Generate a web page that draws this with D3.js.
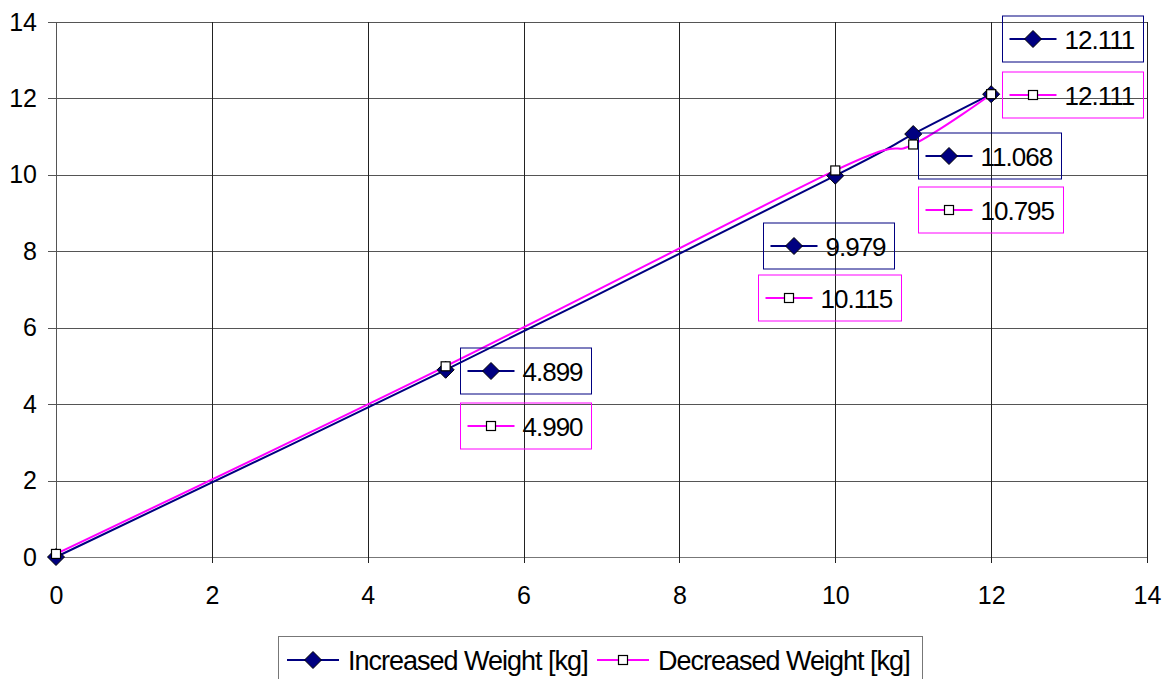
<!DOCTYPE html>
<html>
<head>
<meta charset="utf-8">
<script src="https://cdn.jsdelivr.net/npm/d3@7"></script>
<style>
  html, body { margin: 0; padding: 0; background: #fff; }
  svg { display: block; font-family: "Liberation Sans", Arial, sans-serif; }
</style>
</head>
<body>
<svg id="chart" width="1176" height="679"></svg>
<script>
// Load readings: x = applied weight step, y = measured weight [kg]
const xValues = [0, 5, 10, 11, 12];
const increasedWeight = [0, 4.899, 9.979, 11.068, 12.111];
const decreasedWeight = [0.08, 4.990, 10.115, 10.795, 12.111];
const seriesNames = ["Increased Weight [kg]", "Decreased Weight [kg]"];
const xTicks = [0, 2, 4, 6, 8, 10, 12, 14];
const yTicks = [0, 2, 4, 6, 8, 10, 12, 14];

// Data label placement (pixel offsets from the point: box left, box vertical centre)
const increasedLabelOffsets = [null, [14, 1], [-72, 70], [5, 22], [11, -55]];
const decreasedLabelOffsets = [null, [14, 60], [-77, 128], [5, 66], [11, 1]];

const NAVY = "#000080", MAGENTA = "#FF00FF";

const svg = d3.select("#chart");
const plot = { left: 56, right: 1147, top: 22, bottom: 557 };

const x = d3.scaleLinear().domain([0, 14]).range([plot.left, plot.right]);
const y = d3.scaleLinear().domain([0, 14]).range([plot.bottom, plot.top]);

// Grid
const grid = svg.append("g");
grid.selectAll("line.h").data(yTicks).join("line")
  .attr("x1", plot.left - 8).attr("x2", plot.right)
  .attr("y1", d => Math.round(y(d)) + 0.5).attr("y2", d => Math.round(y(d)) + 0.5)
  .attr("stroke", d => d === 0 ? "#777" : "#555").attr("stroke-width", 1);
grid.selectAll("line.v").data(xTicks).join("line")
  .attr("x1", d => Math.round(x(d)) + 0.5).attr("x2", d => Math.round(x(d)) + 0.5)
  .attr("y1", plot.top).attr("y2", plot.bottom + 6)
  .attr("stroke", d => d === 0 ? "#555" : "#222").attr("stroke-width", 1);

// Axes labels via d3 axes (domain and ticks hidden; grid drawn above)
const xAxis = svg.append("g")
  .attr("transform", `translate(0,${plot.bottom})`)
  .call(d3.axisBottom(x).tickValues(xTicks).tickSize(0).tickPadding(29).tickFormat(d3.format("d")));
const yAxis = svg.append("g")
  .attr("transform", `translate(${plot.left},0)`)
  .call(d3.axisLeft(y).tickValues(yTicks).tickSize(0).tickPadding(19).tickFormat(d3.format("d")));
[xAxis, yAxis].forEach(a => {
  a.select(".domain").remove();
  a.selectAll("text").attr("font-size", 25).attr("fill", "#000")
    .attr("font-family", "'Liberation Sans', Arial, sans-serif");
});

// Smoothed series lines
const line = d3.line().x(d => x(d[0])).y(d => y(d[1])).curve(d3.curveCardinal.tension(0));
const incPts = xValues.map((v, i) => [v, increasedWeight[i]]);
const decPts = xValues.map((v, i) => [v, decreasedWeight[i]]);

svg.append("path").datum(incPts).attr("d", line)
  .attr("fill", "none").attr("stroke", NAVY).attr("stroke-width", 2);
svg.append("path").datum(decPts).attr("d", line)
  .attr("fill", "none").attr("stroke", MAGENTA).attr("stroke-width", 2);

function diamond(g, cx, cy) {
  const r = 8.5;
  g.append("path")
    .attr("d", `M${cx},${cy - r}L${cx + r},${cy}L${cx},${cy + r}L${cx - r},${cy}Z`)
    .attr("fill", NAVY).attr("stroke", "#000").attr("stroke-width", 1);
}
function square(g, cx, cy) {
  const s = 9;
  g.append("rect").attr("x", cx - s / 2).attr("y", cy - s / 2)
    .attr("width", s).attr("height", s)
    .attr("fill", "#fff").attr("stroke", "#000").attr("stroke-width", 1.2);
}

const markers = svg.append("g");
incPts.forEach(p => diamond(markers, x(p[0]), y(p[1])));
decPts.forEach(p => square(markers, x(p[0]), y(p[1])));

// Data labels with legend keys
const fmt = d3.format(".3f");
function dataLabel(pt, off, color, markerFn) {
  if (!off) return;
  const bx = Math.round(x(pt[0]) + off[0]) + 0.5;
  const cy = Math.round(y(pt[1]) + off[1]);
  const g = svg.append("g");
  const rect = g.append("rect").attr("fill", "none").attr("stroke", color).attr("stroke-width", 1);
  g.append("line").attr("x1", bx + 7).attr("x2", bx + 54).attr("y1", cy).attr("y2", cy)
    .attr("stroke", color).attr("stroke-width", 2);
  markerFn(g, bx + 30.5, cy);
  const t = g.append("text").attr("x", bx + 62).attr("y", cy + 9.5)
    .attr("font-size", 26).attr("letter-spacing", -1.0).attr("fill", "#000")
    .text(fmt(pt[1]));
  const w = t.node().getComputedTextLength();
  rect.attr("x", bx).attr("y", cy - 23).attr("width", Math.round(62 + w + 9)).attr("height", 46);
}
incPts.forEach((p, i) => dataLabel(p, increasedLabelOffsets[i], NAVY, diamond));
decPts.forEach((p, i) => dataLabel(p, decreasedLabelOffsets[i], MAGENTA, square));

// Legend
const legend = svg.append("g");
legend.append("rect").attr("x", 278.5).attr("y", 636.5).attr("width", 644).attr("height", 60)
  .attr("fill", "none").attr("stroke", "#777").attr("stroke-width", 1);
const legY = 660;
const legendItems = [
  { name: seriesNames[0], color: NAVY, marker: diamond, x0: 287, tx: 348 },
  { name: seriesNames[1], color: MAGENTA, marker: square, x0: 597, tx: 658 }
];
legendItems.forEach(it => {
  legend.append("line").attr("x1", it.x0).attr("x2", it.x0 + 52).attr("y1", legY).attr("y2", legY)
    .attr("stroke", it.color).attr("stroke-width", 2);
  it.marker(legend, it.x0 + 26, legY);
  legend.append("text").attr("x", it.tx).attr("y", legY + 10)
    .attr("font-size", 27).attr("letter-spacing", -1.0).attr("fill", "#000")
    .text(it.name);
});
</script>
</body>
</html>
